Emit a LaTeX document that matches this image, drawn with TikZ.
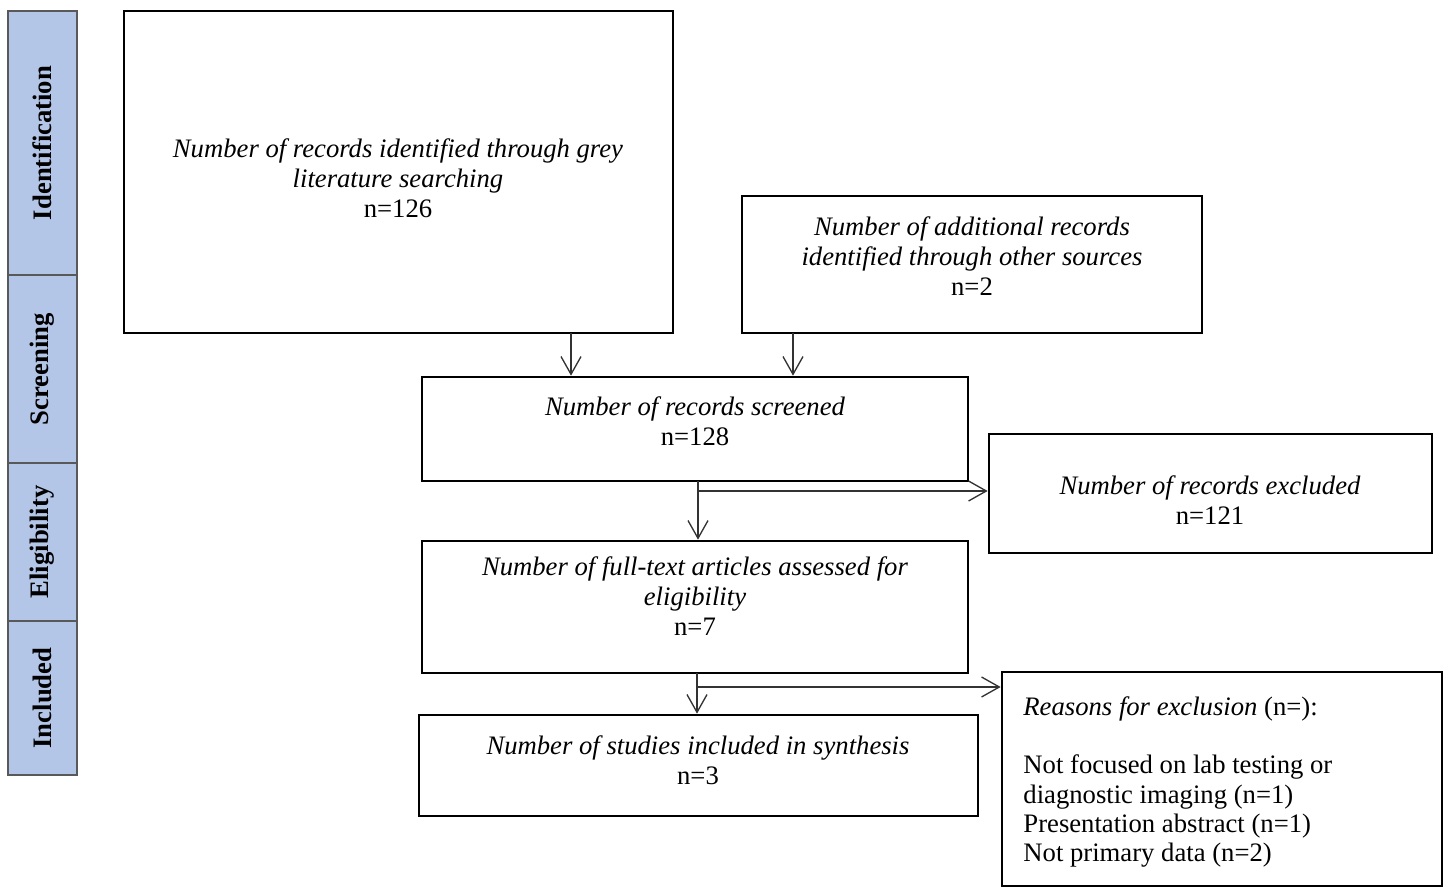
\documentclass[tikz,border=0pt]{standalone}
\usepackage{fontspec}
\setmainfont{Liberation Serif}
\usetikzlibrary{arrows.meta,positioning,fit}

\definecolor{stageblue}{RGB}{180,198,231}

\tikzset{
  recbox/.style={draw=black, line width=1.2pt, inner sep=0pt},
  stagebox/.style={draw=black!65, fill=stageblue, line width=0.6pt, inner sep=0pt},
  stagetext/.style={rotate=90, font=\fontsize{12}{14}\selectfont\bfseries},
  boxtext/.style={align=center, inner sep=0pt, font=\fontsize{12}{13.6}\selectfont},
  listtext/.style={align=left, anchor=north west, inner sep=0pt, font=\fontsize{12}{13.2}\selectfont},
  flow/.style={draw=black!80, line width=0.6pt, -{Straight Barb[length=8pt,width=9pt]}}
}

\begin{document}
\begin{tikzpicture}[x=0.45pt, y=-0.45pt]
    \useasboundingbox (0,0) rectangle (1450,888);
    % stages down the left side
    \node[stagebox, fit={(8,11) (77,275)}] (ident) {};
    \node[stagebox, fit={(8,275) (77,463)}] (screen) {};
    \node[stagebox, fit={(8,463) (77,621)}] (elig) {};
    \node[stagebox, fit={(8,621) (77,775)}] (incl) {};
    \node[stagetext] (identlbl) at (ident.center) {Identification};
    \node[stagetext] (screenlbl) at (screen.center) {Screening};
    \node[stagetext] (eliglbl) at (elig.center) {Eligibility};
    \node[stagetext] (incllbl) at (incl.center) {Included};

    % record boxes
    \node[recbox, fit={(124,11) (673,333)}] (grey) {};
    \node[recbox, fit={(742,196) (1202,333)}] (other) {};
    \node[recbox, fit={(422,377) (968,481)}] (screened) {};
    \node[recbox, fit={(989,434) (1432,553)}] (excluded) {};
    \node[recbox, fit={(422,541) (968,673)}] (fulltext) {};
    \node[recbox, fit={(419,715) (978,816)}] (included) {};
    \node[recbox, fit={(1002,672) (1442,886)}] (reasons) {};

    \node[boxtext] (greytxt) at (398,178) {\textit{Number of records identified through grey}\\\textit{literature searching}\\n=126};
    \node[boxtext] (othertxt) at (972,256) {\textit{Number of additional records}\\\textit{identified through other sources}\\n=2};
    \node[boxtext] (screenedtxt) at (695,421) {\textit{Number of records screened}\\n=128};
    \node[boxtext] (excludedtxt) at (1210,500) {\textit{Number of records excluded}\\n=121};
    \node[boxtext] (fulltexttxt) at (695,596) {\textit{Number of full-text articles assessed for}\\\textit{eligibility}\\n=7};
    \node[boxtext] (includedtxt) at (698,760) {\textit{Number of studies included in synthesis}\\n=3};
    \node[listtext] (reasonstxt) at (1023,696) {\textit{Reasons for exclusion} (n=):\\[13.2pt]
        Not focused on lab testing or\\diagnostic imaging (n=1)\\Presentation abstract (n=1)\\Not primary data (n=2)};

    % connectors
    \coordinate (g1) at (571,333);
    \coordinate (o1) at (793,333);
    \coordinate (s1) at (698,481);
    \coordinate (f1) at (697,673);
    \draw[flow] (g1) -- (g1 |- screened.north);
    \draw[flow] (o1) -- (o1 |- screened.north);
    \draw[flow] (s1) -- (s1 |- fulltext.north);
    \draw[flow] ([yshift=-10*0.45pt]s1) -- ([yshift=-10*0.45pt]s1 -| excluded.west);
    \draw[flow] (f1) -- (f1 |- included.north);
    \draw[flow] ([yshift=-14*0.45pt]f1) -- ([yshift=-14*0.45pt]f1 -| reasons.west);
\end{tikzpicture}
\end{document}
